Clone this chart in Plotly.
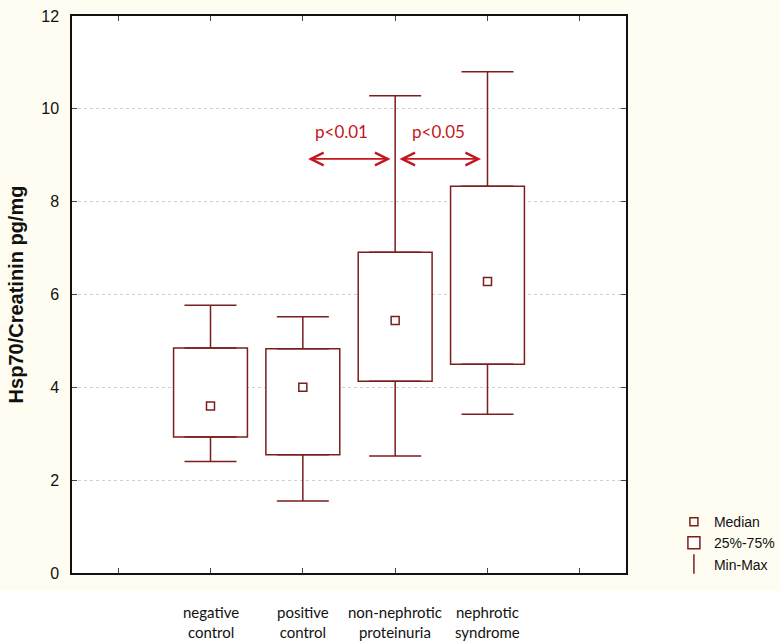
import plotly.graph_objects as go

# valores (Hsp70/Creatinin pg/mg)
groups = ["negative<br>control", "positive<br>control", "non-nephrotic<br>proteinuria", "nephrotic<br>syndrome"]
xpos = [2, 3, 4, 5]
mins = [2.40, 1.55, 2.52, 3.42]
q1s = [2.93, 2.55, 4.13, 4.50]
medians = [3.60, 4.00, 5.44, 6.28]
q3s = [4.85, 4.83, 6.91, 8.33]
maxs = [5.77, 5.52, 10.28, 10.80]

# flechas de significancia
sig_labels = ["p<0.01", "p<0.05"]
sig_from = [3.04, 4.03]
sig_to = [3.95, 4.93]
sig_text_x = [3.42, 4.47]
sig_y = 8.92
sig_text_y = 9.52

dark = "#7B1E1E"
red = "#C4161C"
cream = "#FFFDF1"

fig = go.Figure()

# caja 25%-75%
fig.add_trace(go.Bar(
    x=xpos, y=[b - a for a, b in zip(q1s, q3s)], base=q1s, width=0.8,
    marker=dict(color="white", line=dict(color=dark, width=1.5)),
    name="25%-75%", legendrank=2, hoverinfo="skip",
))

# bigotes min-max
fig.add_trace(go.Scatter(
    x=xpos, y=q3s, mode="markers", marker=dict(size=1, color="rgba(0,0,0,0)"),
    error_y=dict(type="data", symmetric=False, array=[m - q for m, q in zip(maxs, q3s)],
                 arrayminus=[0] * 4, width=26, thickness=1.5, color=dark),
    showlegend=False, hoverinfo="skip",
))
fig.add_trace(go.Scatter(
    x=xpos, y=q1s, mode="markers", marker=dict(size=1, color="rgba(0,0,0,0)"),
    error_y=dict(type="data", symmetric=False, array=[0] * 4,
                 arrayminus=[q - m for m, q in zip(mins, q1s)], width=26, thickness=1.5, color=dark),
    showlegend=False, hoverinfo="skip",
))

# mediana
fig.add_trace(go.Scatter(
    x=xpos, y=medians, mode="markers", name="Median", legendrank=1,
    marker=dict(symbol="square-open", size=8, color=dark, line=dict(width=1.5)),
))

# solo para la leyenda
fig.add_trace(go.Scatter(
    x=[None], y=[None], mode="markers", name="Min-Max", legendrank=3,
    marker=dict(symbol="line-ns-open", size=14, color=dark, line=dict(width=1.5, color=dark)),
))

for lab, x0, x1, xt in zip(sig_labels, sig_from, sig_to, sig_text_x):
    fig.add_annotation(x=x1, y=sig_y, ax=x0, ay=sig_y, xref="x", yref="y", axref="x", ayref="y",
                       text="", showarrow=True, arrowhead=5, arrowside="end+start",
                       arrowsize=1.4, arrowwidth=1.8, arrowcolor=red)
    fig.add_annotation(x=xt, y=sig_text_y, xref="x", yref="y", text=lab,
                       showarrow=False, font=dict(family="Lato", size=17, color=red))

for g, x in zip(groups, xpos):
    fig.add_annotation(x=x, y=-0.05, xref="x", yref="paper", text=g, showarrow=False,
                       yanchor="top", font=dict(family="Lato", size=15, color="#111"))

# franja blanca bajo el panel crema
fig.add_shape(type="rect", xref="paper", yref="paper", x0=-0.2, x1=1.4, y0=-0.2, y1=-0.032,
              fillcolor="white", line=dict(width=0), layer="below")

fig.update_layout(
    width=780, height=643,
    margin=dict(l=72, r=154, t=16, b=70),
    paper_bgcolor=cream, plot_bgcolor="white",
    font=dict(family="Liberation Sans, Arial", size=14, color="#111"),
    barmode="overlay",
    legend=dict(xref="container", yref="container", x=0.864, y=0.213,
                xanchor="left", yanchor="top", bgcolor="rgba(0,0,0,0)",
                font=dict(size=14), tracegroupgap=0, itemwidth=30,
                traceorder="normal"),
    xaxis=dict(range=[0.5, 6.5], tickvals=[1, 2, 3, 4, 5, 6], showticklabels=False,
               ticks="inside", ticklen=5, mirror="ticks", showline=True, linecolor="#111",
               linewidth=1.5, showgrid=False, zeroline=False, automargin=False),
    yaxis=dict(range=[0, 12], dtick=2, ticks="inside", ticklen=5, mirror="ticks",
               showline=True, linecolor="#111", linewidth=1.5, showgrid=True,
               gridcolor="#CFCFCF", griddash="dot", gridwidth=1, zeroline=False,
               tickfont=dict(size=16), ticklabelstandoff=8, automargin=False,
               title=dict(text="<b>Hsp70/Creatinin pg/mg</b>", font=dict(size=20), standoff=12)),
)

# quitar el margen por defecto del body
fig.write_html("out.html", config={"displayModeBar": False},
               post_script="document.body.style.margin='0';")
